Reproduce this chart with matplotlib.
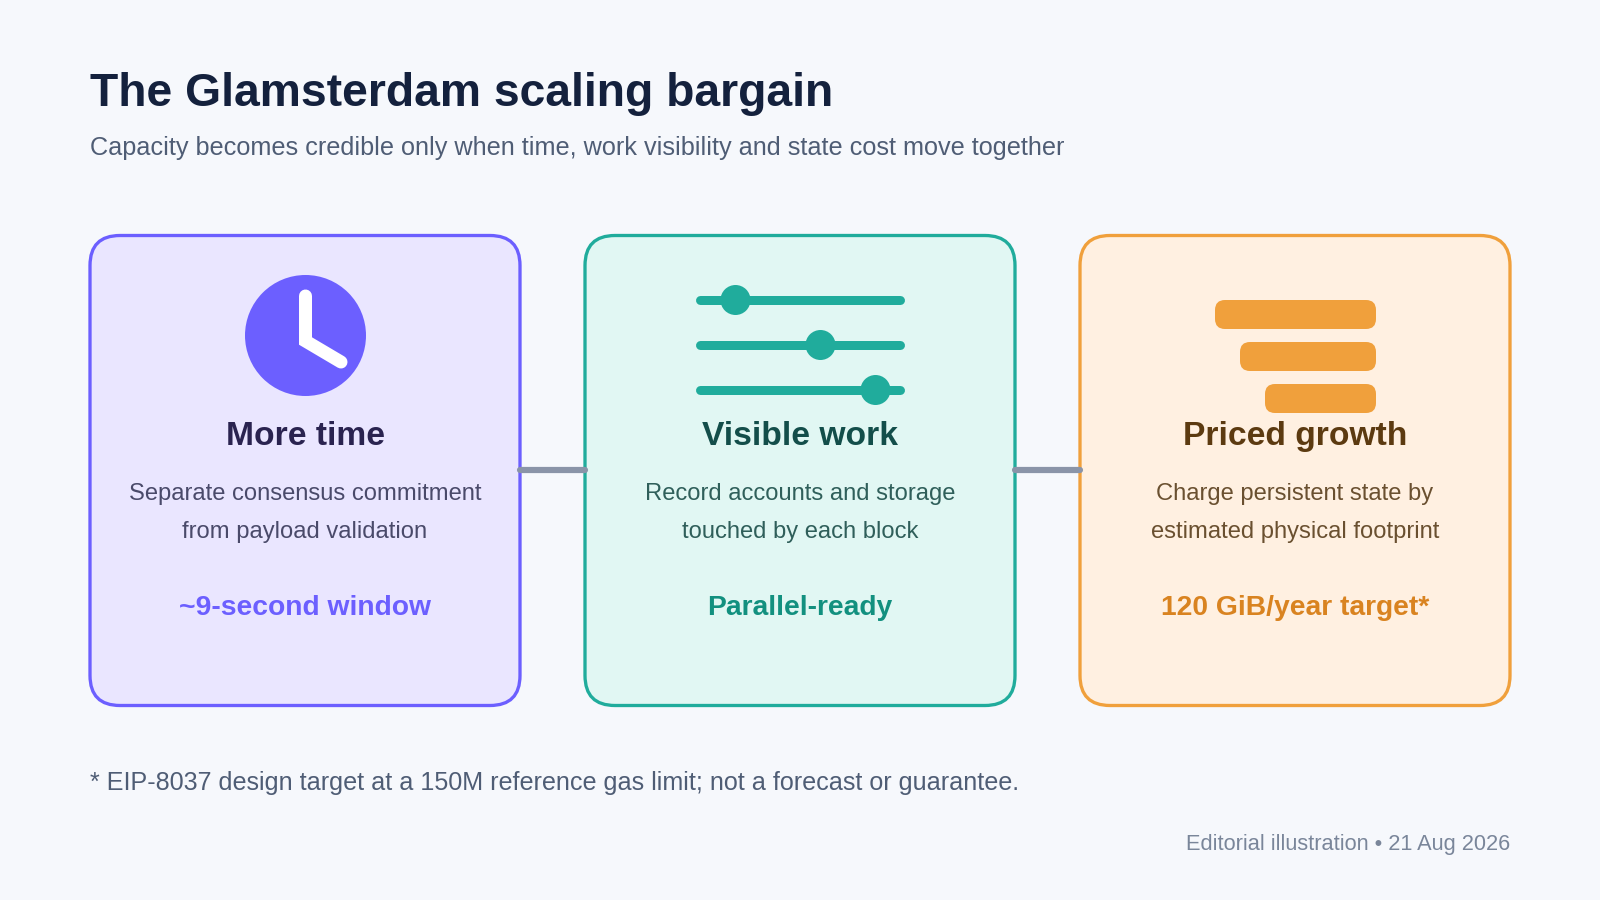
import matplotlib
matplotlib.use("Agg")
import matplotlib.pyplot as plt
from matplotlib.patches import FancyBboxPatch, Circle

plt.rcParams['font.family'] = ['Liberation Sans', 'DejaVu Sans']

title = "The Glamsterdam scaling bargain"
subtitle = "Capacity becomes credible only when time, work visibility and state cost move together"
footnote = "* EIP-8037 design target at a 150M reference gas limit; not a forecast or guarantee."
credit = "Editorial illustration \u2022 21 Aug 2026"

card_titles = ["More time", "Visible work", "Priced growth"]
card_lines = [
    ["Separate consensus commitment", "from payload validation"],
    ["Record accounts and storage", "touched by each block"],
    ["Charge persistent state by", "estimated physical footprint"],
]
card_accents = ["~9-second window", "Parallel-ready", "120 GiB/year target*"]

# slider knob positions along a 210 long track, and widths of the stacked bars
slider_levels = [40, 125, 180]
bar_widths = [161, 136, 111]

bg_colour = "#F6F8FC"
fill_colours = ["#EAE6FF", "#E1F7F3", "#FFF0E1"]
edge_colours = ["#6C5FFF", "#20AC9C", "#F0A03C"]
head_colours = ["#2A2350", "#134E4A", "#5C3A10"]
body_colours = ["#4A4A6A", "#2F5F5A", "#6A5030"]
accent_colours = ["#6C5FFF", "#12907F", "#D98320"]

fig = plt.figure(figsize=(16, 9), dpi=100, facecolor=bg_colour)
ax = fig.add_axes([0, 0, 1, 1])
ax.set_xlim(0, 1600)
ax.set_ylim(900, 0)
ax.axis("off")


def px(size):
    return size * 0.72


ax.text(90, 106, title, fontsize=px(46.3), fontweight="bold", color="#14213D", va="baseline")
ax.text(90, 155, subtitle, fontsize=px(25.3), color="#4F5D75", va="baseline")

card_left = [90, 585, 1080]
card_w = 430
for i in range(3):
    box = FancyBboxPatch((card_left[i], 235.5), card_w, 470, boxstyle="round,pad=0,rounding_size=30",
                         facecolor=fill_colours[i], edgecolor=edge_colours[i], linewidth=px(3.3), zorder=1)
    ax.add_patch(box)
    cx = card_left[i] + card_w / 2
    ax.text(cx, 445, card_titles[i], fontsize=px(33.7), fontweight="bold", color=head_colours[i],
            ha="center", va="baseline", zorder=3)
    ax.text(cx, 500, card_lines[i][0], fontsize=px(23.8), color=body_colours[i], ha="center", va="baseline", zorder=3)
    ax.text(cx, 538, card_lines[i][1], fontsize=px(23.8), color=body_colours[i], ha="center", va="baseline", zorder=3)
    ax.text(cx, 615, card_accents[i], fontsize=px(28.3), fontweight="bold", color=accent_colours[i],
            ha="center", va="baseline", zorder=3)

# connectors
for x0, x1 in [(520, 585), (1015, 1080)]:
    ax.plot([x0, x1], [470, 470], color="#8A94A8", lw=px(6.2), solid_capstyle="round", zorder=2)

# clock
ax.add_patch(Circle((305.5, 335.5), 60.5, facecolor=edge_colours[0], edgecolor="none", zorder=2))
ax.plot([305.5, 305.5, 341], [296, 341, 362], color="white", lw=px(13), solid_capstyle="round",
        solid_joinstyle="miter", zorder=3)

# sliders
for y, level in zip([300, 345, 390], slider_levels):
    ax.plot([700, 900], [y, y], color=edge_colours[1], lw=px(9), solid_capstyle="round", zorder=2)
    ax.add_patch(Circle((695.5 + level, y), 15, facecolor=edge_colours[1], edgecolor="none", zorder=3))

# stacked bars
for y, width in zip([300, 342, 384], bar_widths):
    bar = FancyBboxPatch((1376 - width, y), width, 29, boxstyle="round,pad=0,rounding_size=10",
                         facecolor=edge_colours[2], edgecolor="none", zorder=2)
    ax.add_patch(bar)

ax.text(90, 790, footnote, fontsize=px(25.07), color="#4F5D75", va="baseline")
ax.text(1510, 850, credit, fontsize=px(21.8), color="#7A869A", ha="right", va="baseline")

fig.savefig("out.png", dpi=100, facecolor=bg_colour)
